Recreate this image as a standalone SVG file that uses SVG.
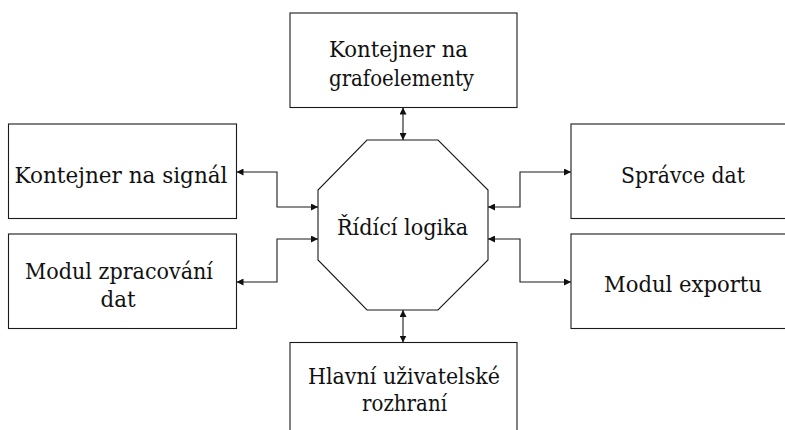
<svg xmlns="http://www.w3.org/2000/svg" width="785" height="430" viewBox="0 0 785 430">
  <style>
    .box { fill: #fff; stroke: #1a1a1a; stroke-width: 1.1; }
    .lbl { font-family: "DejaVu Serif", serif; font-size: 22px; fill: #111; text-anchor: middle; }
    .wire { fill: none; stroke: #1a1a1a; stroke-width: 1.1; marker-start: url(#tip); marker-end: url(#tip); }
  </style>
  <defs>
    <marker id="tip" viewBox="0 0 10 10" refX="10" refY="5" markerWidth="7" markerHeight="7" markerUnits="userSpaceOnUse" orient="auto-start-reverse">
      <path d="M0,0 L10,5 L0,10 Z" fill="#111"/>
    </marker>
  </defs>
  <rect width="785" height="430" fill="#fff"/>

  <!-- connectors: every link is two-way -->
  <g id="connectors">
    <path class="wire" d="M403,107.5 V140"/>
    <path class="wire" d="M403,310 V342.5"/>
    <path class="wire" d="M236.5,172 H277 V207 H318"/>
    <path class="wire" d="M318,239 H277 V282 H236.5"/>
    <path class="wire" d="M488,207 H520 V172 H571"/>
    <path class="wire" d="M488,239 H520 V282 H571"/>
  </g>

  <g id="control">
    <polygon class="box" points="367,140 438,140 488,190 488,260 438,310 367,310 318,260 318,190"/>
    <text class="lbl" x="402.5" y="235" textLength="131" lengthAdjust="spacingAndGlyphs">Řídící logika</text>
  </g>

  <g id="graph-container">
    <rect class="box" x="290" y="13" width="227" height="94.5"/>
    <text class="lbl" x="398.5" y="57" textLength="139" lengthAdjust="spacingAndGlyphs">Kontejner na</text>
    <text class="lbl" x="401.5" y="86" textLength="145" lengthAdjust="spacingAndGlyphs">grafoelementy</text>
  </g>

  <g id="signal-container">
    <rect class="box" x="8.5" y="124" width="228" height="94.5"/>
    <text class="lbl" x="121" y="183" textLength="213" lengthAdjust="spacingAndGlyphs">Kontejner na signál</text>
  </g>

  <g id="processing">
    <rect class="box" x="8.5" y="234" width="228" height="94.5"/>
    <text class="lbl" x="119" y="279" textLength="188" lengthAdjust="spacingAndGlyphs">Modul zpracování</text>
    <text class="lbl" x="118" y="307" textLength="35" lengthAdjust="spacingAndGlyphs">dat</text>
  </g>

  <g id="data-manager">
    <rect class="box" x="571" y="124" width="230" height="94.5"/>
    <text class="lbl" x="683" y="183" textLength="124" lengthAdjust="spacingAndGlyphs">Správce dat</text>
  </g>

  <g id="export">
    <rect class="box" x="571" y="234" width="230" height="94.5"/>
    <text class="lbl" x="683" y="292" textLength="158" lengthAdjust="spacingAndGlyphs">Modul exportu</text>
  </g>

  <g id="main-ui">
    <rect class="box" x="290" y="342.5" width="227" height="100"/>
    <text class="lbl" x="404" y="384" textLength="192" lengthAdjust="spacingAndGlyphs">Hlavní uživatelské</text>
    <text class="lbl" x="404.5" y="411" textLength="85" lengthAdjust="spacingAndGlyphs">rozhraní</text>
  </g>
</svg>
